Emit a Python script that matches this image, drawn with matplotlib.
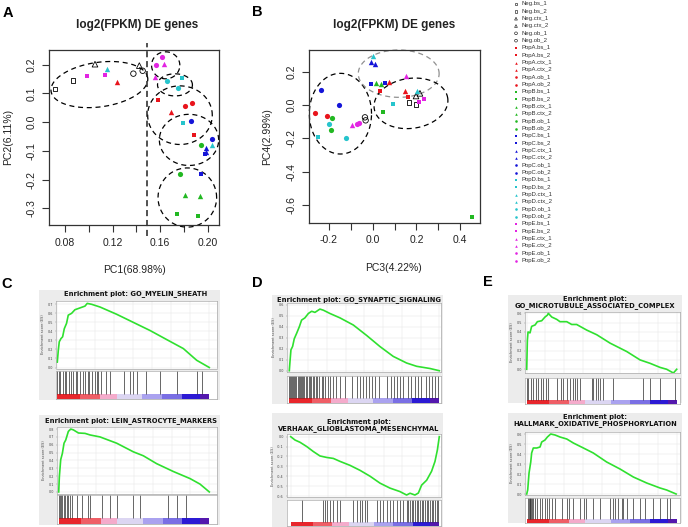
import numpy as np
import matplotlib
matplotlib.use("Agg")
import matplotlib.pyplot as plt

W, H = 688, 527
fig = plt.figure(figsize=(W / 100, H / 100), dpi=100)
RFONT = "Liberation Sans"
GFONT = "DejaVu Sans"

# ---------------- data: PCA ----------------
samples = ["Neg.bs_1", "Neg.bs_2", "Neg.ctx_1", "Neg.ctx_2", "Neg.ob_1", "Neg.ob_2",
           "PopA.bs_1", "PopA.bs_2", "PopA.ctx_1", "PopA.ctx_2", "PopA.ob_1", "PopA.ob_2",
           "PopB.bs_1", "PopB.bs_2", "PopB.ctx_1", "PopB.ctx_2", "PopB.ob_1", "PopB.ob_2",
           "PopC.bs_1", "PopC.bs_2", "PopC.ctx_1", "PopC.ctx_2", "PopC.ob_1", "PopC.ob_2",
           "PopD.bs_1", "PopD.bs_2", "PopD.ctx_1", "PopD.ctx_2", "PopD.ob_1", "PopD.ob_2",
           "PopE.bs_1", "PopE.bs_2", "PopE.ctx_1", "PopE.ctx_2", "PopE.ob_1", "PopE.ob_2"]
pc1 = [0.0716, 0.0865, 0.1052, 0.1425, 0.1375, 0.1453,
       0.1585, 0.1888, 0.1235, 0.1694, 0.1809, 0.1871,
       0.1739, 0.1919, 0.1809, 0.1938, 0.1770, 0.1947,
       0.1944, 0.1975, 0.1983, 0.1986, 0.1860, 0.2036,
       0.1781, 0.1795, 0.1151, 0.2036, 0.1655, 0.1748,
       0.0988, 0.1136, 0.1635, 0.1560, 0.1616, 0.1563]
pc2 = [0.116, 0.145, 0.202, 0.197, 0.169, 0.179,
       0.076, -0.045, 0.1415, 0.036, 0.058, 0.067,
       -0.319, -0.326, -0.252, -0.255, -0.180, -0.078,
       -0.180, -0.112, -0.090, -0.104, 0.004, -0.059,
       0.153, -0.002, 0.185, -0.079, 0.143, 0.119,
       0.162, 0.166, 0.202, 0.159, 0.228, 0.199]
pc3 = [0.167, 0.198, 0.198, 0.216, -0.035, -0.032,
       0.035, 0.160, 0.076, 0.149, -0.263, -0.210,
       0.046, 0.453, 0.015, 0.038, -0.187, -0.191,
       -0.009, 0.056, -0.009, 0.011, -0.236, -0.155,
       0.091, -0.248, 0.000, 0.204, -0.199, -0.122,
       0.236, 0.213, 0.152, -0.093, -0.070, -0.062]
pc4 = [0.014, 0.004, 0.054, 0.070, -0.074, -0.092,
       0.086, 0.046, 0.136, 0.084, -0.050, -0.068,
       -0.042, -0.672, 0.134, 0.126, -0.080, -0.150,
       0.126, 0.130, 0.256, 0.244, 0.090, -0.002,
       0.004, -0.190, 0.296, 0.084, -0.116, -0.200,
       0.036, 0.016, 0.174, -0.118, -0.112, -0.108]

group_colors = {"Neg": "black", "PopA": "#e8141c", "PopB": "#22b822", "PopC": "#1414d8",
                "PopD": "#26c4cc", "PopE": "#e224e2"}
tissue_markers = {"bs": "s", "ctx": "^", "ob": "o"}
marker_sizes = {"s": 9.5, "^": 15, "o": 14}

# ellipses: (cx, cy, width, height, angle, colour)
ellipses_a = [(0.1089, 0.131, 0.0821, 0.155, 8, "black"),
              (0.1647, 0.198, 0.0238, 0.094, 0, "black"),
              (0.1725, 0.130, 0.0294, 0.077, 0, "black"),
              (0.1767, 0.0245, 0.0544, 0.204, 0, "black"),
              (0.1843, -0.0615, 0.0499, 0.178, 0, "black"),
              (0.1829, -0.262, 0.0493, 0.206, 0, "black")]
ellipses_b = [(-0.147, -0.052, 0.284, 0.484, 0, "black"),
              (0.119, 0.188, 0.369, 0.284, 0, "#909090"),
              (0.175, 0.010, 0.339, 0.300, 8, "black")]
cut_pc1 = 0.1492

# ---------------- data: GSEA ----------------
c1_x = [0, 0.0066, 0.013, 0.024, 0.035, 0.046, 0.061, 0.072, 0.094, 0.116, 0.149, 0.182, 0.197,
        0.226, 0.281, 0.39, 0.5, 0.61, 0.719, 0.829, 0.917, 1.0]
c1_es = [0.06, 0.19, 0.285, 0.32, 0.34, 0.43, 0.49, 0.58, 0.60, 0.64, 0.66, 0.68, 0.71,
         0.70, 0.67, 0.59, 0.50, 0.41, 0.31, 0.21, 0.08, 0.0]
c1_hits = [0.0, 0.01, 0.02, 0.035, 0.05, 0.06, 0.075, 0.09, 0.10, 0.12, 0.13, 0.15, 0.17, 0.18,
           0.20, 0.21, 0.23, 0.25, 0.26, 0.27, 0.29, 0.32, 0.347, 0.439, 0.478, 0.50, 0.522,
           0.581, 0.675, 0.785, 0.917, 0.95]
c2_x = [0, 0.0044, 0.0133, 0.0243, 0.0354, 0.0465, 0.053, 0.064, 0.08, 0.097, 0.131, 0.175,
        0.208, 0.274, 0.385, 0.496, 0.562, 0.65, 0.761, 0.872, 0.938, 1.0]
c2_es = [0, 0.195, 0.41, 0.49, 0.62, 0.66, 0.70, 0.77, 0.80, 0.79, 0.75, 0.745, 0.725, 0.70,
         0.62, 0.51, 0.46, 0.36, 0.26, 0.17, 0.10, 0.0]
c2_hits = [0.0, 0.008, 0.015, 0.025, 0.035, 0.045, 0.055, 0.065, 0.075, 0.085, 0.124, 0.153,
           0.197, 0.208, 0.285, 0.341, 0.385, 0.496, 0.54, 0.728, 0.783, 0.845]
d1_x = [0, 0.0044, 0.011, 0.022, 0.033, 0.049, 0.067, 0.082, 0.104, 0.127, 0.149, 0.171, 0.204,
        0.227, 0.271, 0.338, 0.427, 0.516, 0.604, 0.693, 0.782, 0.849, 0.938, 1.0]
d1_es = [0, 0.08, 0.19, 0.22, 0.29, 0.34, 0.40, 0.46, 0.48, 0.52, 0.54, 0.53, 0.56, 0.55, 0.52,
         0.48, 0.415, 0.32, 0.22, 0.13, 0.07, 0.04, 0.02, 0.0]
d1_hits = [0.0, 0.006, 0.012, 0.018, 0.025, 0.031, 0.04, 0.047, 0.055, 0.062, 0.07, 0.078, 0.085,
           0.093, 0.1, 0.11, 0.12, 0.128, 0.136, 0.145, 0.155, 0.165, 0.175, 0.185, 0.2, 0.215,
           0.225, 0.24, 0.255, 0.27, 0.29, 0.31, 0.34, 0.37, 0.42, 0.45, 0.47, 0.49, 0.51, 0.53,
           0.55, 0.57, 0.6, 0.65, 0.68, 0.7, 0.72, 0.74, 0.76, 0.79, 0.81, 0.84, 0.86, 0.88,
           0.91, 0.93, 0.95, 0.97, 0.99]
d2_x = [0, 0.029, 0.063, 0.108, 0.152, 0.197, 0.242, 0.287, 0.332, 0.399, 0.466, 0.534, 0.601,
        0.668, 0.735, 0.78, 0.803, 0.836, 0.859, 0.881, 0.915, 0.948, 0.971, 0.987, 1.0]
d2_es = [0, -0.034, -0.057, -0.10, -0.15, -0.195, -0.21, -0.22, -0.25, -0.29, -0.34, -0.40,
         -0.47, -0.52, -0.555, -0.59, -0.572, -0.59, -0.57, -0.49, -0.44, -0.35, -0.25, -0.135, 0.0]
d2_hits = [0.074, 0.215, 0.231, 0.247, 0.265, 0.287, 0.309, 0.332, 0.422, 0.444, 0.466, 0.478,
           0.5, 0.511, 0.578, 0.601, 0.623, 0.646, 0.668, 0.691, 0.713, 0.735, 0.758, 0.78,
           0.791, 0.803, 0.814, 0.825, 0.836, 0.848, 0.859, 0.87, 0.881, 0.892, 0.904, 0.915,
           0.926, 0.937, 0.948, 0.96, 0.971, 0.982, 0.993]
e1_x = [0, 0.0044, 0.0089, 0.022, 0.033, 0.056, 0.071, 0.1, 0.122, 0.138, 0.144, 0.167, 0.2,
        0.222, 0.267, 0.3, 0.333, 0.4, 0.467, 0.556, 0.667, 0.756, 0.822, 0.889, 0.933, 0.978, 1.0]
e1_es = [0, 0.31, 0.40, 0.39, 0.46, 0.475, 0.51, 0.52, 0.56, 0.58, 0.60, 0.56, 0.535, 0.51,
         0.51, 0.48, 0.48, 0.42, 0.37, 0.28, 0.19, 0.10, 0.064, 0.02, 0.0, -0.04, 0.0]
e1_hits = [0.0, 0.011, 0.027, 0.044, 0.062, 0.078, 0.096, 0.111, 0.129, 0.14, 0.2, 0.227, 0.244,
           0.267, 0.289, 0.311, 0.322, 0.333, 0.356, 0.433, 0.444, 0.462, 0.478, 0.489, 0.507,
           0.578, 0.778, 0.822, 0.889, 0.989]
e2_x = [0, 0.0067, 0.0156, 0.027, 0.033, 0.044, 0.067, 0.089, 0.1, 0.122, 0.138, 0.16, 0.189,
        0.222, 0.267, 0.311, 0.378, 0.444, 0.533, 0.622, 0.711, 0.8, 0.889, 0.933, 0.996]
e2_es = [0, 0.04, 0.21, 0.32, 0.41, 0.46, 0.46, 0.47, 0.52, 0.54, 0.57, 0.60, 0.59, 0.57, 0.55,
         0.51, 0.46, 0.41, 0.32, 0.25, 0.17, 0.11, 0.06, 0.04, 0.0]
e2_hits = [0.011, 0.016, 0.02, 0.024, 0.029, 0.033, 0.044, 0.056, 0.067, 0.089, 0.1, 0.122, 0.138,
           0.151, 0.167, 0.189, 0.233, 0.267, 0.284, 0.311, 0.356, 0.382, 0.396, 0.444, 0.489,
           0.556, 0.578, 0.589, 0.611, 0.633, 0.644, 0.667, 0.711, 0.756, 0.789, 0.844, 0.889,
           0.933, 0.956]

rank_edges = [0, 0.15, 0.28, 0.39, 0.56, 0.69, 0.82, 0.94, 1.0]
rank_colors = ["#e8262c", "#ef5e66", "#f4abcb", "#dcd6f2", "#aaa2ef", "#7a6fe4", "#2c1ad4", "#5418ae"]


def fbox(l, t, r, b):
    return [l / W, 1 - b / H, (r - l) / W, (b - t) / H]


def draw_ellipse(ax, cx, cy, w, h, ang, col):
    # rotation applied in display space
    bb = ax.get_position()
    xl, yl = ax.get_xlim(), ax.get_ylim()
    sx = bb.width * W / (xl[1] - xl[0])
    sy = bb.height * H / (yl[1] - yl[0])
    t = np.linspace(0, 2 * np.pi, 200)
    a, b = w / 2 * sx, h / 2 * sy
    th = np.deg2rad(ang)
    px = a * np.cos(t) * np.cos(th) - b * np.sin(t) * np.sin(th)
    py = a * np.cos(t) * np.sin(th) + b * np.sin(t) * np.cos(th)
    ax.plot(cx + px / sx, cy + py / sy, color=col, lw=0.9, ls=(0, (4, 3)), clip_on=False)


def pca_axes(box, xs, ys, xlim, ylim, xt, xtl, yt, ytl, ells, title, xlabel, ylabel, tpos, xlpos, ylpos):
    ax = fig.add_axes(fbox(*box))
    ax.set_xlim(xlim)
    ax.set_ylim(ylim)
    for name, x, y in zip(samples, xs, ys):
        grp, rest = name.split(".")
        tis = rest.split("_")[0]
        m = tissue_markers[tis]
        c = group_colors[grp]
        if grp == "Neg":
            ax.scatter([x], [y], marker=m, s=marker_sizes[m] * 1.1, facecolors="none",
                       edgecolors=c, linewidths=0.6, zorder=3, clip_on=False)
        else:
            ax.scatter([x], [y], marker=m, s=marker_sizes[m], color=c, linewidths=0,
                       zorder=3, clip_on=False)
    for e in ells:
        draw_ellipse(ax, *e)
    ax.set_xticks(xt)
    ax.set_xticklabels(xtl, fontsize=7.5, family=RFONT)
    ax.set_yticks(yt)
    ax.set_yticklabels(ytl, fontsize=7.5, family=RFONT, rotation=90, va="center")
    ax.tick_params(length=5, width=0.8, pad=4, color="#333333", labelcolor="#222222")
    for s in ax.spines.values():
        s.set_linewidth(0.9)
        s.set_color("#333333")
    fig.text(tpos[0] / W, 1 - tpos[1] / H, title, ha="center", va="center", fontsize=8.5,
             fontweight="bold", family=RFONT, color="#222222")
    fig.text(xlpos[0] / W, 1 - xlpos[1] / H, xlabel, ha="center", va="center", fontsize=7.5,
             family=RFONT, color="#222222")
    fig.text(ylpos[0] / W, 1 - ylpos[1] / H, ylabel, ha="center", va="center", fontsize=7.5,
             family=RFONT, rotation=90, color="#222222")
    return ax


axA = pca_axes((49, 50, 219.3, 225), pc1, pc2, (0.0665, 0.2098), (-0.3576, 0.2513),
               [0.08, 0.10, 0.12, 0.14, 0.16, 0.18, 0.20], ["0.08", "", "0.12", "", "0.16", "", "0.20"],
               [-0.3, -0.2, -0.1, 0.0, 0.1, 0.2], ["-0.3", "-0.2", "-0.1", "0.0", "0.1", "0.2"],
               ellipses_a, "log2(FPKM) DE genes", "PC1(68.98%)", "PC2(6.11%)",
               (137, 25), (134, 270), (8, 137))
axA.axvline(cut_pc1, color="#222222", lw=1.1, ls=(0, (4, 2.5)), ymin=-0.06, ymax=1.04, clip_on=False)

axB = pca_axes((309.3, 50, 480, 222.7), pc3, pc4, (-0.289, 0.49), (-0.706, 0.33),
               [-0.2, -0.1, 0.0, 0.1, 0.2, 0.3, 0.4], ["-0.2", "", "0.0", "", "0.2", "", "0.4"],
               [-0.6, -0.4, -0.2, 0.0, 0.2], ["-0.6", "-0.4", "-0.2", "0.0", "0.2"],
               ellipses_b, "log2(FPKM) DE genes", "PC3(4.22%)", "PC4(2.99%)",
               (394, 25), (393, 268), (266.7, 137))

# legend
axL = fig.add_axes(fbox(510, 0, 610, 266))
axL.set_axis_off()
axL.set_xlim(0, 100)
axL.set_ylim((266 - 4) / 7.333, -4 / 7.333)
for i, name in enumerate(samples):
    grp, rest = name.split(".")
    m = tissue_markers[rest.split("_")[0]]
    c = group_colors[grp]
    if grp == "Neg":
        axL.scatter([6], [i], marker=m, s=4, facecolors="none", edgecolors=c, linewidths=0.4)
    else:
        axL.scatter([6], [i], marker=m, s=3.5, color=c, linewidths=0)
    axL.text(12, i, name, fontsize=4.3, family=RFONT, va="center", ha="left", color="#333333")

# panel letters
for lab, (x, y) in {"A": (8, 13), "B": (257, 12), "C": (7, 284), "D": (257, 283), "E": (488, 282)}.items():
    fig.text(x / W, 1 - y / H, lab, fontsize=10.5, fontweight="bold", family=RFONT,
             ha="center", va="center")

# ---------------- GSEA panels ----------------
gsea = [
    dict(title=["Enrichment plot: GO_MYELIN_SHEATH"], tx=136, ty=[294], bg=(39.3, 290, 220, 400),
         es=(56, 300.7, 217, 368.5), x0=57.3, x1=209.3, ylim=(-0.011, 0.74),
         yt=[0.0, 0.1, 0.2, 0.3, 0.4, 0.5, 0.6, 0.7], low=(56, 370.7, 217, 399.3), cbt=394,
         x=c1_x, y=c1_es, hits=c1_hits),
    dict(title=["Enrichment plot: LEIN_ASTROCYTE_MARKERS"], tx=131, ty=[420.5], bg=(39.3, 415, 220, 525),
         es=(57, 426.7, 217, 493.5), x0=58.7, x1=209.3, ylim=(-0.02, 0.83),
         yt=[0.0, 0.1, 0.2, 0.3, 0.4, 0.5, 0.6, 0.7, 0.8], low=(57, 495, 217, 524), cbt=518,
         x=c2_x, y=c2_es, hits=c2_hits),
    dict(title=["Enrichment plot: GO_SYNAPTIC_SIGNALING"], tx=359, ty=[300], bg=(271.7, 295, 443.3, 404),
         es=(287, 302.7, 441, 371.7), x0=289.3, x1=439.3, ylim=(-0.009, 0.618),
         yt=[0.0, 0.1, 0.2, 0.3, 0.4, 0.5, 0.6], low=(287, 376, 441, 403.3), cbt=397.7,
         x=d1_x, y=d1_es, hits=d1_hits),
    dict(title=["Enrichment plot:", "VERHAAK_GLIOBLASTOMA_MESENCHYMAL"], tx=359, ty=[421.7, 429],
         bg=(271.7, 413, 443.3, 527), es=(287, 434, 441, 497.3), x0=290.7, x1=439.3,
         ylim=(-0.613, 0.027), yt=[-0.6, -0.5, -0.4, -0.3, -0.2, -0.1, 0.0],
         low=(287, 500, 441, 525.7), cbt=521.7, x=d2_x, y=d2_es, hits=d2_hits),
    dict(title=["Enrichment plot:", "GO_MICROTUBULE_ASSOCIATED_COMPLEX"], tx=595, ty=[299.3, 305.7],
         bg=(508.3, 295, 681.7, 403.3), es=(525, 311.7, 680, 373), x0=526.7, x1=676.7,
         ylim=(-0.04, 0.617), yt=[0.0, 0.1, 0.2, 0.3, 0.4, 0.5, 0.6],
         low=(525, 378, 680, 404), cbt=400, x=e1_x, y=e1_es, hits=e1_hits),
    dict(title=["Enrichment plot:", "HALLMARK_OXIDATIVE_PHOSPHORYLATION"], tx=595, ty=[416.7, 424],
         bg=(508.3, 413, 681.7, 523.3), es=(525, 431.7, 680, 495), x0=526.7, x1=676.7,
         ylim=(-0.01, 0.623), yt=[0.0, 0.1, 0.2, 0.3, 0.4, 0.5, 0.6],
         low=(525, 498, 680, 523.3), cbt=519, x=e2_x, y=e2_es, hits=e2_hits),
]

for p in gsea:
    bgax = fig.add_axes(fbox(*p["bg"]))
    bgax.set_facecolor("#ececec")
    bgax.set_xticks([])
    bgax.set_yticks([])
    for s in bgax.spines.values():
        s.set_visible(False)
    for line, yy in zip(p["title"], p["ty"]):
        fig.text(p["tx"] / W, 1 - yy / H, line, ha="center", va="center", fontsize=4.9,
                 fontweight="bold", family=GFONT, color="#111111")
    l, t, r, b = p["es"]
    xl = ((l - p["x0"]) / (p["x1"] - p["x0"]), (r - p["x0"]) / (p["x1"] - p["x0"]))
    ax = fig.add_axes(fbox(*p["es"]))
    ax.set_facecolor("white")
    ax.set_xlim(xl)
    ax.set_ylim(p["ylim"])
    ax.set_xticks(np.arange(0, 1.01, 0.125))
    ax.set_xticklabels([])
    ax.set_yticks(p["yt"])
    ax.set_yticklabels(["%.1f" % v for v in p["yt"]], fontsize=2.4, family=GFONT, color="#444444")
    ax.tick_params(length=1, width=0.3, pad=1.2, color="#888888")
    ax.tick_params(axis="x", length=0)
    ax.grid(True, color="#e4e4e4", lw=0.35)
    for s in ax.spines.values():
        s.set_linewidth(0.4)
        s.set_color("#999999")
    ax.plot(p["x"], p["y"], color="#2fe02f", lw=1.2, solid_joinstyle="round")
    ax.set_ylabel("Enrichment score (ES)", fontsize=2.5, family=GFONT, labelpad=1.5, color="#444444")

    lax = fig.add_axes(fbox(*p["low"]))
    lax.set_xlim(xl)
    lax.set_ylim(0, 1)
    lax.set_xticks([])
    lax.set_yticks([])
    lax.set_facecolor("white")
    for s in lax.spines.values():
        s.set_linewidth(0.4)
        s.set_color("#999999")
    lt, lb = p["low"][1], p["low"][3]
    cbf = (lb - p["cbt"]) / (lb - lt)
    lax.vlines(p["hits"], cbf, 1, color="#2a2a2a", lw=0.5)
    for e0, e1, c in zip(rank_edges[:-1], rank_edges[1:], rank_colors):
        lax.axvspan(e0, e1, 0, cbf, color=c, lw=0)

fig.savefig("out.png", dpi=100)
